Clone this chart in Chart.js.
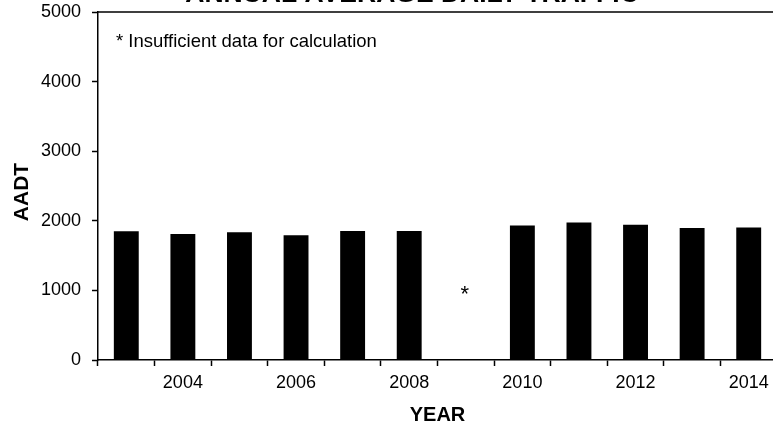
<!DOCTYPE html>
<html>
<head>
<meta charset="utf-8">
<title>Annual Average Daily Traffic</title>
<script src="https://cdn.jsdelivr.net/npm/chart.js@4/dist/chart.umd.min.js"></script>
<style>
  html, body { margin: 0; padding: 0; overflow: hidden; background: #fff; width: 773px; height: 426px; }
  #wrap { position: absolute; left: 0; top: -30px; width: 790px; height: 456px; }
</style>
</head>
<body>
<div id="wrap"><canvas id="aadtChart" width="790" height="456"></canvas></div>
<script>
// Chart data
const years = ['2003', '2004', '2005', '2006', '2007', '2008', '2009', '2010', '2011', '2012', '2013', '2014'];
const aadtValues = [1849, 1811, 1834, 1791, 1855, 1852, null, 1931, 1974, 1945, 1897, 1902];
const yTicks = [0, 1000, 2000, 3000, 4000, 5000];
const missingYears = ['2009'];
const missingMarkerValue = [1000];

const chartTitle = 'ANNUAL AVERAGE DAILY TRAFFIC';
const noteText = '* Insufficient data for calculation';
const yAxisTitle = 'AADT';
const fontFamily = '"Liberation Sans", Arial, sans-serif';

// Title, note, y title, asterisk and frame line
const extrasPlugin = {
  id: 'extras',
  afterDraw(chart) {
    const ctx = chart.ctx;
    const area = chart.chartArea;
    const x = chart.scales.x;
    const y = chart.scales.y;
    ctx.save();

    // frame line on top and right
    ctx.strokeStyle = '#000';
    ctx.lineWidth = 1.5;
    ctx.beginPath();
    ctx.moveTo(area.left, area.top);
    ctx.lineTo(area.right, area.top);
    ctx.lineTo(area.right, area.bottom);
    ctx.stroke();

    // title (mostly cut off at top)
    ctx.fillStyle = '#000';
    ctx.font = 'bold 26.5px ' + fontFamily;
    ctx.textAlign = 'center';
    ctx.textBaseline = 'alphabetic';
    ctx.fillText(chartTitle, 412, 32);

    // note
    ctx.font = '18.5px ' + fontFamily;
    ctx.textAlign = 'left';
    ctx.textBaseline = 'middle';
    ctx.fillText(noteText, 116, 72);

    // y axis title
    ctx.save();
    ctx.translate(22, 222);
    ctx.rotate(-Math.PI / 2);
    ctx.font = 'bold 21px ' + fontFamily;
    ctx.textAlign = 'center';
    ctx.textBaseline = 'middle';
    ctx.fillText(yAxisTitle, 0, 0);
    ctx.restore();

    // asterisk for missing years
    ctx.font = '22px ' + fontFamily;
    ctx.textAlign = 'center';
    ctx.textBaseline = 'alphabetic';
    missingYears.forEach(function(yr, i) {
      ctx.fillText('*', x.getPixelForValue(years.indexOf(yr)) - 1, y.getPixelForValue(missingMarkerValue[i]) + 11);
    });

    ctx.restore();
  }
};

new Chart(document.getElementById('aadtChart'), {
  type: 'bar',
  data: {
    labels: years,
    datasets: [{
      label: 'AADT',
      data: aadtValues,
      backgroundColor: '#000',
      borderWidth: 0,
      barPercentage: 0.44,
      categoryPercentage: 1.0
    }]
  },
  options: {
    responsive: false,
    animation: false,
    devicePixelRatio: 1,
    layout: {
      padding: { top: 42, right: 13, bottom: 0, left: 0 }
    },
    plugins: {
      legend: { display: false },
      tooltip: { enabled: false }
    },
    scales: {
      x: {
        afterFit: function(scale) { scale.height = 66; },
        ticks: {
          color: '#000',
          autoSkip: false,
          maxRotation: 0,
          padding: 6,
          font: { family: fontFamily, size: 18 },
          callback: function(value) {
            const label = this.getLabelForValue(value);
            return parseInt(label, 10) % 2 === 0 ? label : '';
          }
        },
        grid: {
          offset: true,
          drawOnChartArea: false,
          tickLength: 6,
          tickColor: '#000',
          tickWidth: 1.5
        },
        border: { color: '#000', width: 1.5 },
        title: {
          display: true,
          text: 'YEAR',
          color: '#000',
          font: { family: fontFamily, size: 20, weight: 'bold' },
          padding: { top: 0, bottom: -1 }
        }
      },
      y: {
        min: yTicks[0],
        max: yTicks[yTicks.length - 1],
        afterFit: function(scale) { scale.width = 98; },
        afterBuildTicks: function(scale) {
          scale.ticks = yTicks.map(function(v) { return { value: v }; });
        },
        ticks: {
          color: '#000',
          padding: 11,
          font: { family: fontFamily, size: 18 },
          callback: function(value) { return String(value); }
        },
        grid: {
          drawOnChartArea: false,
          tickLength: 6,
          tickColor: '#000',
          tickWidth: 1.5
        },
        border: { color: '#000', width: 1.5 }
      }
    }
  },
  plugins: [extrasPlugin]
});
</script>
</body>
</html>
